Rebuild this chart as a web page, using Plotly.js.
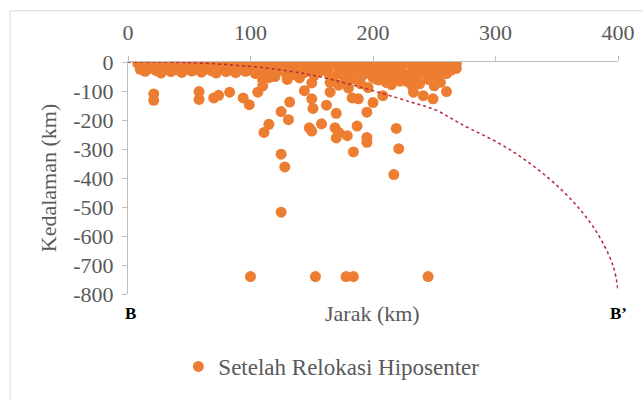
<!DOCTYPE html>
<html>
<head>
<meta charset="utf-8">
<script src="https://cdn.plot.ly/plotly-3.0.1.min.js"></script>
<style>
html,body{margin:0;padding:0;background:#fff;}
#chart{width:643px;height:400px;}
</style>
</head>
<body>
<div id="chart"></div>
<script>
// Hypocenter positions after relocation: distance (km) and depth (km)
const bandUpperX = [8,12,16,20,24,28,33,37,41,45,49,53,57,61,65,69,73,77,81,85,89,93,97,101,105,109,113,117,121,125,129,133,137,141,145,149,153,157,161,165,169,173,177,181,185,189,193,197,201,205,209,213,217,221,225,229,233,237,241,245,249,253,257,261,265,268];
const bandUpperY = [-5,-12,-8,-3,-15,-6,-10,-4,-14,-7,-2,-11,-5,-16,-8,-3,-12,-6,-14,-4,-9,-2,-13,-6,-10,-3,-15,-7,-11,-4,-9,-2,-13,-6,-10,-3,-8,-14,-5,-11,-2,-9,-6,-13,-3,-10,-6,-2,-12,-5,-9,-14,-4,-10,-7,-2,-12,-5,-9,-3,-13,-6,-10,-4,-12,-7];
const bandLowerX = [10,14,18,23,27,31,35,40,44,48,52,56,60,64,68,72,76,80,84,88,92,96,100,104,108,112,116,120,124,128,132,136,140,144,148,152,156,160,164,168,172,176,180,184,188,192,196,200,204,208,212,216,220,224,228,232,236,240,244,248,252,256,260,264,268];
const bandLowerY = [-25,-32,-22,-30,-38,-24,-33,-27,-36,-22,-31,-26,-35,-23,-30,-38,-25,-33,-28,-37,-24,-32,-27,-40,-22,-34,-29,-41,-25,-35,-30,-44,-24,-37,-28,-46,-33,-26,-42,-52,-31,-47,-38,-58,-29,-44,-36,-54,-27,-40,-33,-48,-25,-38,-45,-30,-52,-35,-42,-27,-48,-34,-40,-28,-22];
const midX = [165,172,178,190,196,205,215,228,238,245,255,130,140,110,150,120,180,232,26,47,86,142,158,186,212,250,262];
const midY = [-70,-80,-65,-75,-88,-62,-78,-68,-75,-60,-70,-60,-55,-62,-72,-50,-90,-82,-18,-20,-19,-20,-21,-20,-19,-22,-18];
const deepX = [21,21,58,58,70,74,83,94,99,106,110,115,125,131,132,111,115,125,128,125,144,150,151,162,170,148,158,169,172,179,187,184,195,195,219,221,217,195,200,183,188,208,233,241,249,260,250,211,222,203,165,170,150];
const deepY = [-110,-132,-102,-129,-124,-115,-104,-124,-147,-104,-82,-54,-171,-199,-138,-243,-215,-318,-362,-518,-99,-127,-160,-149,-177,-227,-213,-227,-243,-254,-221,-310,-260,-277,-229,-299,-388,-173,-140,-124,-127,-116,-104,-116,-127,-102,-82,-71,-66,-60,-104,-262,-238];
const bottomX = [100,153,178,184,245];
const bottomY = [-740,-740,-740,-740,-740];

// Dashed slab outline
const slabX = [0,50,100,124,150,184,230,252,271,312,353,380,396,400];
const slabY = [0,-2,-15,-27,-45,-80,-137,-167,-212,-303,-437,-570,-703,-790];

const xTicks = [0,100,200,300,400];
const yTicks = [0,-100,-200,-300,-400,-500,-600,-700,-800];

const seriesName = 'Setelah Relokasi Hiposenter';
const allX = bandUpperX.concat(bandLowerX, midX, deepX, bottomX);
const allY = bandUpperY.concat(bandLowerY, midY, deepY, bottomY);

const FONT = 'Liberation Serif';
const GREY = '#595959';
const FS = 22;

const traces = [
  {
    x: allX, y: allY, type: 'scatter', mode: 'markers', name: seriesName,
    marker: {color: '#ed7d31', size: 11, line: {width: 0}},
    showlegend: true
  },
  {
    x: slabX, y: slabY, type: 'scatter', mode: 'lines', showlegend: false,
    line: {color: '#b8283a', width: 1.5, dash: 'dot', shape: 'spline'},
    hoverinfo: 'skip'
  }
];

const layout = {
  width: 643, height: 400,
  margin: {l: 128, r: 25, t: 62, b: 98},
  paper_bgcolor: '#ffffff', plot_bgcolor: '#ffffff',
  font: {family: FONT, color: GREY, size: FS},
  xaxis: {
    side: 'top', range: [0, 400], tickvals: xTicks, ticktext: xTicks.map(String),
    showgrid: false, zeroline: false, showline: true, linecolor: '#bfbfbf', linewidth: 1,
    ticks: 'outside', ticklen: 5, tickcolor: '#bfbfbf', ticklabelstandoff: 7,
    tickfont: {family: FONT, color: GREY, size: FS}
  },
  yaxis: {
    range: [-800, 0], tickvals: yTicks, ticktext: yTicks.map(String),
    showgrid: false, zeroline: false, showline: true, linecolor: '#bfbfbf', linewidth: 1,
    ticks: 'outside', ticklen: 5, tickcolor: '#bfbfbf', ticklabelstandoff: 4,
    tickfont: {family: FONT, color: GREY, size: FS},
    title: {text: 'Kedalaman (km)', font: {family: FONT, color: GREY, size: 22}, standoff: 10}
  },
  showlegend: true,
  legend: {
    x: 0.415, y: -0.3125, xanchor: 'center', yanchor: 'middle', orientation: 'h',
    font: {family: FONT, color: GREY, size: 23}, bgcolor: 'rgba(0,0,0,0)'
  },
  annotations: [
    {xref: 'paper', yref: 'paper', x: 0.005, y: -0.085, xanchor: 'center', yanchor: 'middle',
     text: '<b>B</b>', showarrow: false, font: {family: FONT, color: '#000', size: 17}},
    {xref: 'paper', yref: 'paper', x: 1.0, y: -0.085, xanchor: 'center', yanchor: 'middle',
     text: '<b>B’</b>', showarrow: false, font: {family: FONT, color: '#000', size: 17}},
    {xref: 'paper', yref: 'paper', x: 0.498, y: -0.085, xanchor: 'center', yanchor: 'middle',
     text: 'Jarak (km)', showarrow: false, font: {family: FONT, color: GREY, size: 22}}
  ],
  shapes: [
    {type: 'rect', xref: 'paper', yref: 'paper',
     x0: (10 - 128) / 490, x1: (660 - 128) / 490, y0: (302 - 420) / 240, y1: (302 - 9) / 240,
     line: {color: '#d9d9d9', width: 1}, fillcolor: 'rgba(0,0,0,0)', layer: 'below'}
  ]
};

Plotly.newPlot('chart', traces, layout, {staticPlot: true, displayModeBar: false});
</script>
</body>
</html>
